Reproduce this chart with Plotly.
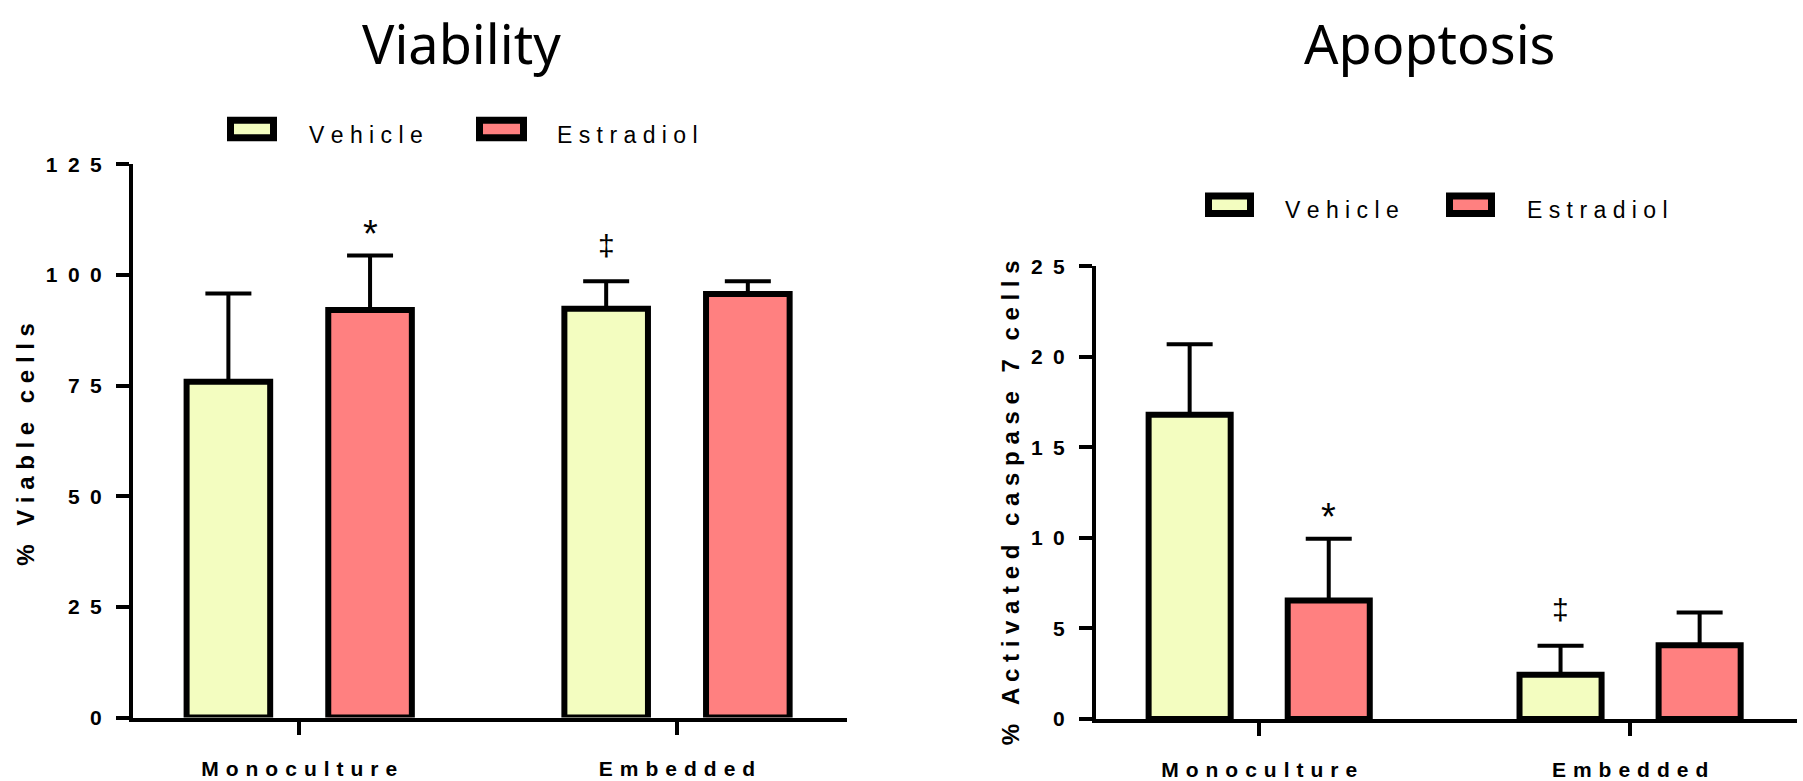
import plotly.graph_objects as go

# ---------------- data ----------------
categories = ["Monoculture", "Embedded"]
series_names = ["Vehicle", "Estradiol"]

viability_vehicle = [75.9, 92.4]
viability_vehicle_sd = [19.9, 6.2]
viability_estradiol = [92.1, 95.7]
viability_estradiol_sd = [12.3, 2.9]

apoptosis_vehicle = [16.8, 2.45]
apoptosis_vehicle_sd = [3.9, 1.6]
apoptosis_estradiol = [6.55, 4.08]
apoptosis_estradiol_sd = [3.4, 1.8]

viability_ticks = [0, 25, 50, 75, 100, 125]
apoptosis_ticks = [0, 5, 10, 15, 20, 25]

# significance marks: (series, category, symbol)
viability_marks = [("Estradiol", "Monoculture", "*"), ("Vehicle", "Embedded", "‡")]
apoptosis_marks = [("Estradiol", "Monoculture", "*"), ("Vehicle", "Embedded", "‡")]

# ---------------- styling ----------------
W, H = 1803, 781
colors = {"Vehicle": "#F3FDC0", "Estradiol": "#FF8080"}
BARGAP = 0.25
BARGROUPGAP = 0.41
SP = "\u2002"
XSP = "\u2004"


def px_x(x):
    return x / W


def px_y(y):
    return 1 - y / H


def spaced(s, sep=SP):
    return sep.join(list(s))


fig = go.Figure()

panels = [
    dict(xa="x", ya="y",
         vals={"Vehicle": (viability_vehicle, viability_vehicle_sd),
               "Estradiol": (viability_estradiol, viability_estradiol_sd)},
         marks=viability_marks),
    dict(xa="x2", ya="y2",
         vals={"Vehicle": (apoptosis_vehicle, apoptosis_vehicle_sd),
               "Estradiol": (apoptosis_estradiol, apoptosis_estradiol_sd)},
         marks=apoptosis_marks),
]

annotations = []
slot = (1 - BARGAP) / len(series_names)

for p in panels:
    for name in series_names:
        mean, sd = p["vals"][name]
        fig.add_trace(go.Bar(
            x=categories, y=mean, name=name,
            xaxis=p["xa"], yaxis=p["ya"],
            marker=dict(color=colors[name], line=dict(color="black", width=6)),
            error_y=dict(type="data", array=sd, arrayminus=[0] * len(sd),
                         symmetric=False, color="black", thickness=4, width=23),
            showlegend=False,
        ))
    for series, cat, sym in p["marks"]:
        si = series_names.index(series)
        ci = categories.index(cat)
        mean, sd = p["vals"][series]
        xpos = ci - (1 - BARGAP) / 2 + slot * (si + 0.5)
        star = sym == "*"
        annotations.append(dict(
            x=xpos, y=mean[ci] + sd[ci], xref=p["xa"], yref=p["ya"],
            text=sym, showarrow=False, yanchor="middle",
            yshift=22 if star else 36,
            font=dict(family="Liberation Sans", size=38 if star else 30, color="black"),
        ))

axis_common = dict(showline=True, linewidth=4, linecolor="black", ticks="outside",
                   ticklen=13, tickwidth=4, tickcolor="black", showgrid=False,
                   zeroline=False)
xfont = dict(family="Liberation Sans", size=21, color="black", weight="bold")
yfont = dict(family="Liberation Sans", size=21, color="black", weight="bold")

fig.update_layout(
    width=W, height=H, autosize=False,
    xaxis=dict(domain=[px_x(133), px_x(847)], range=[-0.44, 1.45], anchor="y",
               tickvals=categories, ticktext=[spaced(c, XSP) for c in categories],
               tickfont=xfont, ticklabelstandoff=16, **axis_common),
    yaxis=dict(domain=[px_y(727), px_y(157)], range=[0, 125], anchor="x",
               tickvals=viability_ticks, ticktext=[spaced(str(t)) for t in viability_ticks],
               tickfont=yfont, ticklabelstandoff=10, **axis_common),
    xaxis2=dict(domain=[px_x(1096), px_x(1797)], range=[-0.44, 1.45], anchor="y2",
                tickvals=categories, ticktext=[spaced(c, XSP) for c in categories],
                tickfont=xfont, ticklabelstandoff=16, **axis_common),
    yaxis2=dict(domain=[px_y(728.5), px_y(262)], range=[0, 25], anchor="x2",
                tickvals=apoptosis_ticks, ticktext=[spaced(str(t)) for t in apoptosis_ticks],
                tickfont=yfont, ticklabelstandoff=10, **axis_common),
    barmode="group", bargap=BARGAP, bargroupgap=BARGROUPGAP,
    plot_bgcolor="white", paper_bgcolor="white",
    margin=dict(l=0, r=0, t=0, b=0),
    showlegend=False,
)

# titles
title_font = dict(family="Noto Sans", size=54, color="black")
annotations.append(dict(x=px_x(461), y=px_y(32), xref="paper", yref="paper", text="Viability",
                        showarrow=False, xanchor="center", yanchor="middle", font=title_font))
annotations.append(dict(x=px_x(1429), y=px_y(32), xref="paper", yref="paper", text="Apoptosis",
                        showarrow=False, xanchor="center", yanchor="middle", font=title_font))

# y axis titles
ytitle_font = dict(family="Liberation Sans", size=24, color="black", weight="bold")
annotations.append(dict(x=px_x(26), y=px_y(446), xref="paper", yref="paper",
                        text="% " + SP + " ".join("Viable") + " " + SP + " ".join("cells"),
                        textangle=-90, showarrow=False, xanchor="center", yanchor="middle",
                        font=ytitle_font))
annotations.append(dict(x=px_x(1010), y=px_y(505), xref="paper", yref="paper",
                        text="% " + SP + (" " + SP).join(" ".join(w) for w in ["Activated", "caspase", "7", "cells"]),
                        textangle=-90, showarrow=False, xanchor="center", yanchor="middle",
                        font=ytitle_font))

# custom legends
legend_font = dict(family="Liberation Sans", size=23, color="black")
legend_boxes = [
    # (series, x0, x1, y0, y1, text_x)
    ("Vehicle", 227, 277, 108, 133, 307),
    ("Estradiol", 476, 527, 108, 133, 555),
    ("Vehicle", 1205, 1254, 186, 211, 1283),
    ("Estradiol", 1446, 1495, 186, 211, 1525),
]
shapes = []
for name, x0, x1, y0, y1, tx in legend_boxes:
    shapes.append(dict(type="rect", xref="paper", yref="paper",
                       x0=px_x(x0 + 3.5), x1=px_x(x1 - 3.5),
                       y0=px_y(y1 - 3.5), y1=px_y(y0 + 3.5),
                       line=dict(color="black", width=7), fillcolor=colors[name]))
    annotations.append(dict(x=px_x(tx), y=px_y((y0 + y1) / 2 + 6), xref="paper", yref="paper",
                            text=" ".join(name), showarrow=False, xanchor="left",
                            yanchor="middle", font=legend_font))

fig.update_layout(annotations=annotations, shapes=shapes)

fig.write_html(
    "out.html",
    config={"displayModeBar": False},
    post_script="document.body.style.margin='0';document.body.style.overflow='hidden';",
)
